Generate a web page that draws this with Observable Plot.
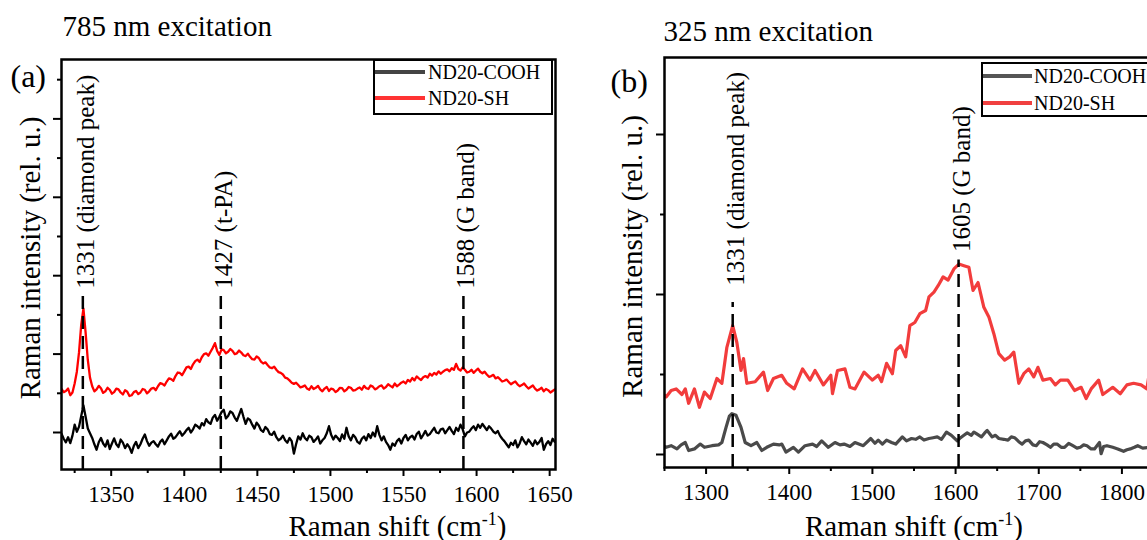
<!DOCTYPE html>
<html>
<head>
<meta charset="utf-8">
<script src="https://cdn.jsdelivr.net/npm/d3@7"></script>
<script src="https://cdn.jsdelivr.net/npm/@observablehq/plot@0.6"></script>
<style>
  html, body { margin: 0; padding: 0; background: #fff; }
  body { width: 1147px; height: 540px; overflow: hidden; position: relative; font-family: "Liberation Serif", "Times New Roman", serif; }
  .panel { position: absolute; top: 0; height: 540px; }
  .panel svg { max-width: none !important; }
  .lbox { position: absolute; border: 2px solid #000; background: #fff; box-sizing: border-box; }
  .sw { position: absolute; height: 4px; }
  .lt { position: absolute; font-size: 20px; line-height: 24px; color: #000; white-space: nowrap; }
</style>
</head>
<body>
<div id="pa" class="panel" style="left:0px; width:580px"></div>
<div id="pb" class="panel" style="left:590px; width:593px"></div>
<script>
// ---------------- data ----------------
const seriesNames = ["ND20-COOH", "ND20-SH"];

// Panel (a): 785 nm excitation
const shiftA = [
  1316,1317.5,1319,1320.5,1322,1323.5,1325,1326.5,1328,1329.5,
  1331,1332.5,1334,1335.5,1337,1338.5,1340,1341.5,1343,1344.5,
  1346,1347.5,1349,1350.5,1352,1353.5,1355,1356.5,1358,1359.5,
  1361,1362.5,1364,1365.5,1367,1368.5,1370,1371.5,1373,1374.5,
  1376,1377.5,1379,1380.5,1382,1383.5,1385,1386.5,1388,1389.5,
  1391,1392.5,1394,1395.5,1397,1398.5,1400,1401.5,1403,1404.5,
  1406,1407.5,1409,1410.5,1412,1413.5,1415,1416.5,1418,1419.5,
  1421,1422.5,1424,1425.5,1427,1428.5,1430,1431.5,1433,1434.5,
  1436,1437.5,1439,1440.5,1442,1443.5,1445,1446.5,1448,1449.5,
  1451,1452.5,1454,1455.5,1457,1458.5,1460,1461.5,1463,1464.5,
  1466,1467.5,1469,1470.5,1472,1473.5,1475,1476.5,1478,1479.5,
  1481,1482.5,1484,1485.5,1487,1488.5,1490,1491.5,1493,1494.5,
  1496,1497.5,1499,1500.5,1502,1503.5,1505,1506.5,1508,1509.5,
  1511,1512.5,1514,1515.5,1517,1518.5,1520,1521.5,1523,1524.5,
  1526,1527.5,1529,1530.5,1532,1533.5,1535,1536.5,1538,1539.5,
  1541,1542.5,1544,1545.5,1547,1548.5,1550,1551.5,1553,1554.5,
  1556,1557.5,1559,1560.5,1562,1563.5,1565,1566.5,1568,1569.5,
  1571,1572.5,1574,1575.5,1577,1578.5,1580,1581.5,1583,1584.5,
  1586,1587.5,1589,1590.5,1592,1593.5,1595,1596.5,1598,1599.5,
  1601,1602.5,1604,1605.5,1607,1608.5,1610,1611.5,1613,1614.5,
  1616,1617.5,1619,1620.5,1622,1623.5,1625,1626.5,1628,1629.5,
  1631,1632.5,1634,1635.5,1637,1638.5,1640,1641.5,1643,1644.5,
  1646,1647.5,1649,1650.5,1652,1653.5];
const intensityA_COOH = [
  0.97,0.84,0.75,0.88,0.73,0.92,1.20,1.02,1.15,1.42,
  1.69,1.40,1.10,0.98,0.86,0.70,0.56,0.75,0.86,0.72,
  0.64,0.80,0.58,0.72,0.85,0.70,0.63,0.82,0.74,0.60,
  0.70,0.62,0.48,0.66,0.76,0.60,0.70,0.84,0.95,0.78,
  0.66,0.74,0.78,0.70,0.64,0.76,0.82,0.70,0.80,0.90,
  0.97,0.84,0.88,0.96,1.03,0.92,0.98,1.06,1.12,1.00,
  1.08,1.20,1.16,1.10,1.24,1.18,1.34,1.26,1.22,1.38,
  1.45,1.30,1.40,1.52,1.58,1.36,1.42,1.54,1.50,1.38,
  1.30,1.45,1.60,1.40,1.22,1.36,1.32,1.20,1.10,1.25,
  1.18,1.06,1.02,1.14,1.08,0.96,0.94,1.02,0.88,0.80,
  0.84,0.92,0.80,0.74,0.86,0.78,0.46,0.70,0.90,0.82,
  0.98,0.86,0.80,0.92,0.88,0.76,0.82,0.90,0.72,0.80,
  0.86,0.98,1.16,0.94,0.82,0.92,0.86,0.78,0.95,0.84,
  1.12,0.90,0.80,0.94,0.88,0.76,0.72,0.84,0.90,0.80,
  0.96,0.86,1.00,0.90,1.16,0.94,0.80,0.90,0.76,0.68,
  0.56,0.72,0.66,0.78,0.84,0.72,0.86,0.94,0.80,0.88,
  0.92,0.82,0.96,1.02,0.85,0.94,1.04,0.92,0.96,1.04,
  1.12,1.00,0.98,1.08,1.10,0.98,1.06,1.14,1.04,0.96,
  1.12,1.04,1.20,1.08,0.90,1.00,1.02,1.10,1.16,1.06,
  1.20,1.12,1.22,1.14,1.06,1.16,1.10,1.02,0.98,1.04,
  0.92,0.84,0.78,0.70,0.62,0.74,0.68,0.80,0.62,0.72,
  0.88,0.78,0.70,0.82,0.74,0.66,0.80,0.70,0.76,0.86,
  0.56,0.70,0.78,0.68,0.84,0.76];
const intensityA_SH = [
  2.11,2.03,2.06,2.12,1.95,2.02,2.25,2.55,3.05,3.75,
  4.16,3.55,2.85,2.40,2.18,2.05,2.10,2.19,2.13,2.01,
  2.05,2.14,2.09,1.99,2.03,2.12,2.10,2.02,1.97,2.08,
  2.04,1.93,1.95,2.03,2.06,1.98,2.02,2.11,2.09,2.00,
  2.05,2.12,2.14,2.08,2.18,2.26,2.24,2.20,2.30,2.38,
  2.36,2.32,2.44,2.53,2.52,2.46,2.56,2.66,2.68,2.62,
  2.74,2.82,2.86,2.80,2.92,3.00,3.02,2.96,3.06,3.16,
  3.28,3.08,2.98,3.12,3.10,3.02,3.06,3.13,3.08,3.00,
  3.02,3.09,3.04,2.97,2.95,3.01,2.93,2.87,2.86,2.94,
  2.90,2.81,2.76,2.79,2.72,2.66,2.64,2.68,2.60,2.54,
  2.52,2.48,2.40,2.38,2.33,2.27,2.24,2.27,2.21,2.15,
  2.17,2.20,2.12,2.09,2.18,2.11,2.14,2.19,2.10,2.05,
  2.12,2.16,2.06,2.12,2.10,2.03,2.07,2.14,2.13,2.05,
  2.09,2.16,2.14,2.07,2.08,2.12,2.15,2.09,2.19,2.13,
  2.11,2.20,2.17,2.10,2.13,2.18,2.20,2.12,2.16,2.23,
  2.19,2.15,2.25,2.18,2.22,2.27,2.30,2.25,2.34,2.30,
  2.39,2.33,2.43,2.38,2.34,2.41,2.44,2.40,2.50,2.45,
  2.52,2.48,2.56,2.50,2.55,2.59,2.61,2.56,2.64,2.60,
  2.75,2.62,2.58,2.66,2.60,2.53,2.55,2.60,2.52,2.58,
  2.63,2.55,2.51,2.55,2.48,2.42,2.44,2.47,2.38,2.41,
  2.36,2.30,2.32,2.35,2.29,2.23,2.27,2.30,2.23,2.18,
  2.21,2.25,2.18,2.12,2.16,2.20,2.12,2.07,2.10,2.14,
  2.05,2.11,2.08,2.02,2.06,2.10];
const peakPosA = [1330.6, 1425, 1591];
const peakLabelsA = ["1331 (diamond peak)", "1427 (t-PA)", "1588 (G band)"];
const xTicksA = [1350, 1400, 1450, 1500, 1550, 1600, 1650];
const xMinorA = [1325, 1375, 1425, 1475, 1525, 1575, 1625];

// Panel (b): 325 nm excitation
const shiftB_SH = [1250,1252,1258,1264,1271,1275,1279,1286,1292,1298,1305,1313,1319,1325,1332,1337,1342,1345,1349,1359,
  1369,1374,1381,1391,1397,1406,1416,1425,1431,1441,1450,1452,1458,1467,1473,1479,1490,1500,1507,1511,
  1517,1524,1528,1534,1540,1545,1551,1557,1564,1568,1574,1579,1585,1591,1598,1604,1610,1616,1621,1627,
  1634,1640,1646,1652,1659,1665,1670,1676,1682,1688,1694,1699,1705,1714,1720,1726,1735,1743,1751,1757,
  1763,1772,1777,1789,1798,1806,1814,1823,1830,1834,1840,1850];
const intensityB_SH = [1.74,1.72,1.80,1.82,1.75,1.82,1.64,1.82,1.59,1.78,1.70,1.95,1.89,2.34,2.61,2.40,2.05,2.20,1.89,1.91,
  2.03,1.80,1.95,1.99,1.89,1.82,2.07,1.93,2.05,1.87,1.99,1.76,2.05,2.07,1.84,1.82,2.03,1.93,1.99,1.91,
  2.14,2.01,2.30,2.36,2.22,2.61,2.65,2.76,2.80,2.97,3.03,3.11,3.22,3.18,3.32,3.38,3.36,3.34,3.05,3.15,
  2.84,2.72,2.51,2.26,2.18,2.22,2.28,1.89,2.01,2.07,1.97,2.09,1.93,1.95,1.87,1.93,1.93,1.80,1.84,1.70,
  1.82,1.93,1.75,1.84,1.76,1.87,1.89,1.87,1.82,2.09,2.15,2.10];
const shiftB_COOH = [1250,1252,1258,1265,1270,1275,1279,1286,1293,1298,1307,1315,1319,1324,1328,1331,1336,1342,1347,1354,
  1361,1367,1373,1381,1388,1391,1396,1405,1411,1419,1428,1433,1439,1447,1455,1461,1466,1473,1479,1489,
  1498,1503,1507,1512,1517,1523,1528,1536,1541,1547,1552,1557,1562,1568,1573,1578,1583,1589,1595,1602,
  1606,1610,1614,1619,1622,1625,1631,1635,1638,1644,1648,1652,1658,1663,1667,1671,1676,1680,1684,1688,
  1693,1697,1701,1705,1710,1714,1718,1722,1727,1731,1736,1741,1746,1750,1754,1758,1763,1767,1770,1773,
  1775,1778,1782,1789,1795,1802,1806,1810,1815,1819,1825,1832,1840,1850];
const intensityB_COOH = [1.10,1.09,1.11,1.07,1.12,1.15,1.05,1.07,1.13,1.09,1.11,1.12,1.15,1.34,1.48,1.51,1.49,1.34,1.15,1.11,
  1.15,1.05,1.09,1.13,1.12,1.13,1.03,1.09,1.03,1.11,1.13,1.10,1.17,1.09,1.15,1.12,1.13,1.10,1.15,1.11,
  1.20,1.14,1.18,1.13,1.18,1.15,1.13,1.22,1.17,1.20,1.19,1.22,1.18,1.20,1.21,1.22,1.19,1.28,1.24,1.17,
  1.21,1.24,1.27,1.24,1.28,1.26,1.22,1.27,1.30,1.22,1.24,1.20,1.19,1.18,1.22,1.21,1.16,1.13,1.17,1.18,
  1.12,1.11,1.16,1.15,1.12,1.09,1.13,1.13,1.09,1.09,1.14,1.11,1.08,1.09,1.12,1.11,1.07,1.07,1.11,1.15,
  1.01,1.10,1.11,1.09,1.07,1.04,1.06,1.07,1.09,1.11,1.08,1.09,1.10,1.08];
const peakPosB = [1332, 1603.6];
const peakLabelsB = ["1331 (diamond peak)", "1605 (G band)"];
const xTicksB = [1300, 1400, 1500, 1600, 1700, 1800];
const xMinorB = [1250, 1350, 1450, 1550, 1650, 1750, 1850];

const panelTitles = ["785 nm excitation", "325 nm excitation"];
const panelTags = ["(a)", "(b)"];
const yTitle = "Raman intensity (rel. u.)";
const xTitle = "Raman shift (cm-1)";

// ---------------- helpers ----------------
const FONT = '"Liberation Serif", "Times New Roman", serif';
const rows = (xs, ys) => xs.map((s, i) => ({shift: s, intensity: ys[i]}));

function superscript(svg) {
  const ns = "http://www.w3.org/2000/svg";
  svg.querySelectorAll("text").forEach(t => {
    if (t.textContent === xTitle) {
      t.textContent = "Raman shift (cm";
      const s = document.createElementNS(ns, "tspan");
      s.setAttribute("dy", "-11"); s.setAttribute("font-size", "18"); s.textContent = "-1";
      const c = document.createElementNS(ns, "tspan");
      c.setAttribute("dy", "11"); c.textContent = ")";
      t.appendChild(s); t.appendChild(c);
    }
  });
  return svg;
}

function panel(cfg) {
  const {width, mL, mR, mT, mB, xDomain, yDomain, xMajor, xMinor, yMajor, yMinor,
         lines, peakPos, peakLabels, textBase, ruleTop, title, tag, tagDx, tagDy, titleDx, titleDy,
         yTitleDx, yTitleDy, xTitleDx, xTitleDy} = cfg;
  const peakData = peakPos.map((p, i) => ({pos: p, label: peakLabels[i], base: textBase[i], top: ruleTop[i]}));
  return superscript(Plot.plot({
    width, height: 540,
    marginLeft: mL, marginRight: mR, marginTop: mT, marginBottom: mB,
    x: {domain: xDomain, axis: null},
    y: {domain: yDomain, axis: null},
    style: {fontFamily: FONT, color: "#000", background: "transparent", overflow: "visible", maxWidth: "none"},
    marks: [
      ...lines.map(l => Plot.line(l.data, {x: "shift", y: "intensity", stroke: l.color, strokeWidth: l.width, strokeLinejoin: "round", clip: true})),
      Plot.ruleX(peakData, {x: "pos", y1: yDomain[0], y2: "top", stroke: "#000", strokeWidth: 2.5, strokeDasharray: "13,7"}),
      Plot.text(peakData, {x: "pos", y: "base", text: "label", rotate: -90, textAnchor: "start", lineAnchor: "middle", dx: 3, fontSize: 25, fill: "#000"}),
      Plot.axisX({ticks: xMajor, tickSize: 7, tickPadding: 9, fontSize: 23, tickFormat: d => String(d), strokeWidth: 2, label: null}),
      Plot.axisX({ticks: xMinor, tickSize: 4, tickFormat: () => "", strokeWidth: 2, label: null}),
      Plot.axisY({ticks: yMajor, tickSize: 8, tickFormat: () => "", strokeWidth: 2, label: null}),
      Plot.axisY({ticks: yMinor, tickSize: 4, tickFormat: () => "", strokeWidth: 2, label: null}),
      Plot.frame({stroke: "#000", strokeWidth: 2.5}),
      Plot.text([title], {text: d => d, frameAnchor: "top-left", textAnchor: "start", lineAnchor: "bottom", dx: titleDx, dy: titleDy, fontSize: 29, fill: "#000"}),
      Plot.text([tag], {text: d => d, frameAnchor: "top-left", textAnchor: "start", lineAnchor: "bottom", dx: tagDx, dy: tagDy, fontSize: 32, fill: "#000"}),
      Plot.text([yTitle], {text: d => d, frameAnchor: "left", textAnchor: "middle", rotate: -90, lineAnchor: "middle", dx: yTitleDx, dy: yTitleDy, fontSize: 29, fill: "#000"}),
      Plot.text([xTitle], {text: d => d, frameAnchor: "bottom", textAnchor: "middle", lineAnchor: "bottom", dx: xTitleDx, dy: xTitleDy, fontSize: 29, fill: "#000"})
    ]
  }));
}

// ---------------- panel (a) ----------------
const colorsA = ["#000000", "#ff0000"];
const svgA = panel({
  width: 580, mL: 61, mR: 25, mT: 59, mB: 71,
  xDomain: [1316, 1654], yDomain: [0.056, 10.515],
  xMajor: xTicksA, xMinor: xMinorA, yMajor: [1, 3, 5, 7, 9], yMinor: [2, 4, 6, 8, 10],
  lines: [
    {data: rows(shiftA, intensityA_COOH), color: colorsA[0], width: 2.3},
    {data: rows(shiftA, intensityA_SH), color: colorsA[1], width: 2.3}
  ],
  peakPos: peakPosA, peakLabels: peakLabelsA, textBase: [4.67, 4.67, 4.67], ruleTop: [4.57, 4.57, 4.57],
  title: panelTitles[0], tag: panelTags[0], titleDx: 1, titleDy: -24, tagDx: -51, tagDy: 27,
  yTitleDx: -31, yTitleDy: -6.5, xTitleDx: 89, xTitleDy: 66
});
document.getElementById("pa").appendChild(svgA);

// ---------------- panel (b) ----------------
const colorsB = ["#4a4a4a", "#f23c3c"];
const svgB = panel({
  width: 593, mL: 74, mR: 20, mT: 57, mB: 73,
  xDomain: [1250, 1850], yDomain: [0.8375, 5.9625],
  xMajor: xTicksB, xMinor: xMinorB, yMajor: [1, 3, 5], yMinor: [2, 4],
  lines: [
    {data: rows(shiftB_COOH, intensityB_COOH), color: colorsB[0], width: 3.2},
    {data: rows(shiftB_SH, intensityB_SH), color: colorsB[1], width: 3.2}
  ],
  peakPos: peakPosB, peakLabels: peakLabelsB, textBase: [3.11, 3.53], ruleTop: [2.9, 3.43],
  title: panelTitles[1], tag: panelTags[1], titleDx: -1, titleDy: -17, tagDx: -54, tagDy: 34,
  yTitleDx: -32, yTitleDy: -6, xTitleDx: 0, xTitleDy: 68
});
document.getElementById("pb").appendChild(svgB);

// ---------------- legends (HTML) ----------------
function legend(box, swatchX, swatchW, textX, rowsY, colors) {
  const b = document.createElement("div");
  b.className = "lbox";
  Object.assign(b.style, {left: box[0] + "px", top: box[1] + "px", width: box[2] + "px", height: box[3] + "px"});
  document.body.appendChild(b);
  seriesNames.forEach((name, i) => {
    const s = document.createElement("div");
    s.className = "sw";
    Object.assign(s.style, {left: swatchX + "px", top: (rowsY[i] - 2) + "px", width: swatchW + "px", background: colors[i]});
    document.body.appendChild(s);
    const t = document.createElement("div");
    t.className = "lt";
    Object.assign(t.style, {left: textX + "px", top: (rowsY[i] - 12) + "px"});
    t.textContent = name;
    document.body.appendChild(t);
  });
}
legend([373, 59, 180, 56], 375, 50, 428, [72, 98], ["#444444", "#ff3333"]);
legend([981, 62, 220, 55], 983, 49, 1034, [76, 103], ["#555555", "#f04040"]);
</script>
</body>
</html>
